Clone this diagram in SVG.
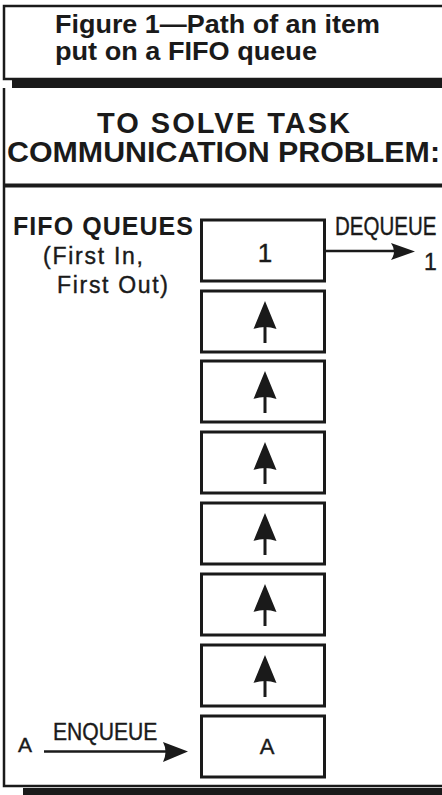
<svg xmlns="http://www.w3.org/2000/svg" width="442" height="795" viewBox="0 0 442 795">
  <style>
    .frame { fill: none; stroke: #1a1a1a; stroke-width: 2.5; }
    .bar { fill: #1a1a1a; }
    .qbox { fill: #ffffff; stroke: #1a1a1a; stroke-width: 3; }
    .bold { font-family: "Liberation Sans", Arial, sans-serif; font-weight: bold; fill: #1a1a1a; }
    .reg { font-family: "Liberation Sans", Arial, sans-serif; fill: #1a1a1a; stroke: #1a1a1a; stroke-width: 0.4; }
    .line { stroke: #1a1a1a; stroke-width: 2.5; fill: none; }
    .head { fill: #1a1a1a; }
  </style>
  <defs>
    <g id="uparrow">
      <path d="M265,10 L253.5,38 Q265,34 276.5,38 Z" class="head"/>
      <rect x="263.5" y="34" width="3" height="18" class="head"/>
    </g>
  </defs>
  <rect width="442" height="795" fill="#ffffff"/>

  <g id="title">
    <path class="frame" d="M450,6 L4,6 L4,79 L450,79"/>
    <rect class="bar" x="12" y="80" width="440" height="8"/>
    <text class="bold" x="55" y="33" font-size="25" textLength="325" lengthAdjust="spacingAndGlyphs">Figure 1—Path of an item</text>
    <text class="bold" x="55" y="60" font-size="25" textLength="262" lengthAdjust="spacingAndGlyphs">put on a FIFO queue</text>
  </g>

  <g id="panel">
    <path class="frame" d="M4,88 L4,786 L450,786"/>
    <rect class="bar" x="23" y="788" width="430" height="8"/>
    <rect class="bar" x="4" y="183.5" width="440" height="4"/>
  </g>

  <g id="header">
    <text class="bold" x="97" y="133" font-size="29" textLength="253" lengthAdjust="spacing">TO SOLVE TASK</text>
    <text class="bold" x="7" y="162" font-size="29" textLength="433" lengthAdjust="spacingAndGlyphs">COMMUNICATION PROBLEM:</text>
  </g>

  <g id="label-fifo">
    <text class="bold" x="13" y="235" font-size="25" textLength="180" lengthAdjust="spacing">FIFO QUEUES</text>
    <text class="reg" x="43" y="264" font-size="23" textLength="100" lengthAdjust="spacing">(First In,</text>
    <text class="reg" x="57" y="293" font-size="23" textLength="111" lengthAdjust="spacing">First Out)</text>
  </g>

  <g id="slot1"><rect class="qbox" x="201.5" y="220" width="123" height="61"/>
    <text class="reg" x="265" y="262" font-size="26" text-anchor="middle">1</text></g>
  <g id="slot2"><rect class="qbox" x="201.5" y="291" width="123" height="61"/></g>
  <g id="slot3"><rect class="qbox" x="201.5" y="361" width="123" height="61"/></g>
  <g id="slot4"><rect class="qbox" x="201.5" y="432" width="123" height="61"/></g>
  <g id="slot5"><rect class="qbox" x="201.5" y="503" width="123" height="61"/></g>
  <g id="slot6"><rect class="qbox" x="201.5" y="574" width="123" height="61"/></g>
  <g id="slot7"><rect class="qbox" x="201.5" y="645" width="123" height="61"/></g>
  <g id="slot8"><rect class="qbox" x="201.5" y="716" width="123" height="61"/>
    <text class="reg" x="267" y="754" font-size="22" text-anchor="middle">A</text></g>

  <g id="dequeue-label">
    <text class="reg" transform="translate(335,235) scale(0.82,1)" x="0" y="0" font-size="25">DEQUEUE</text>
    <text class="reg" x="424" y="270" font-size="23">1</text>
  </g>

  <g id="enqueue-label">
    <text class="reg" x="18" y="752" font-size="21">A</text>
    <text class="reg" transform="translate(53,740) scale(0.88,1)" x="0" y="0" font-size="24">ENQUEUE</text>
  </g>

  <g id="connectors">
    <use href="#uparrow" y="291"/>
    <use href="#uparrow" y="361"/>
    <use href="#uparrow" y="432"/>
    <use href="#uparrow" y="503"/>
    <use href="#uparrow" y="574"/>
    <use href="#uparrow" y="645"/>
    <line class="line" x1="326" y1="251" x2="396" y2="251"/>
    <path class="head" d="M415,251.5 L391,243 Q397,251.5 391,260 Z"/>
    <line class="line" x1="44" y1="751.5" x2="166" y2="751.5"/>
    <path class="head" d="M188,751.5 L163,742 Q168,751.5 163,762 Z"/>
  </g>
</svg>
